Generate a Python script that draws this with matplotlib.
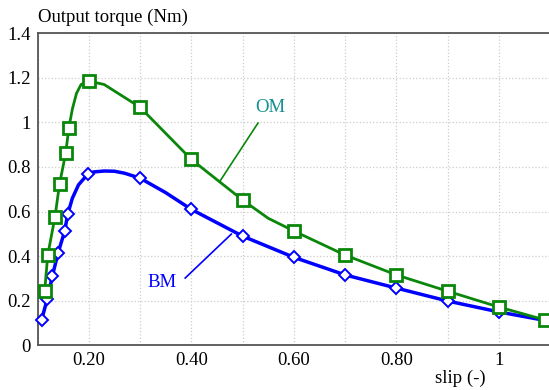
import matplotlib.pyplot as plt
import numpy as np

plt.rcParams['font.family'] = ['Liberation Serif', 'DejaVu Serif']

# OM curve (line) and its square markers
om_line_slip = [0.114, 0.120, 0.134, 0.143, 0.155, 0.161, 0.168, 0.176, 0.185, 0.200,
                0.230, 0.300, 0.400, 0.500, 0.550, 0.600, 0.700, 0.800, 0.900, 1.000, 1.090]
om_line_torque = [0.244, 0.405, 0.575, 0.724, 0.862, 0.973, 1.06, 1.13, 1.17, 1.185,
                  1.17, 1.068, 0.834, 0.652, 0.57, 0.513, 0.405, 0.316, 0.243, 0.172, 0.114]
om_mark_slip = [0.114, 0.120, 0.134, 0.143, 0.155, 0.161, 0.200, 0.300, 0.400,
                0.500, 0.600, 0.700, 0.800, 0.900, 1.000, 1.090]
om_mark_torque = [0.244, 0.405, 0.575, 0.724, 0.862, 0.973, 1.185, 1.068, 0.834,
                  0.652, 0.513, 0.405, 0.316, 0.243, 0.172, 0.114]

# BM curve (line) and its diamond markers
bm_line_slip = [0.108, 0.119, 0.129, 0.140, 0.153, 0.159, 0.168, 0.180, 0.198, 0.210,
                0.230, 0.250, 0.270, 0.300, 0.350, 0.400, 0.450, 0.500, 0.600,
                0.700, 0.800, 0.900, 1.000, 1.090]
bm_line_torque = [0.114, 0.208, 0.311, 0.414, 0.512, 0.589, 0.66, 0.72, 0.768, 0.778,
                  0.782, 0.781, 0.772, 0.75, 0.685, 0.61, 0.55, 0.49, 0.395,
                  0.316, 0.257, 0.199, 0.150, 0.112]
bm_mark_slip = [0.108, 0.119, 0.129, 0.140, 0.153, 0.159, 0.198, 0.300, 0.400,
                0.500, 0.600, 0.700, 0.800, 0.900, 1.000]
bm_mark_torque = [0.114, 0.208, 0.311, 0.414, 0.512, 0.589, 0.768, 0.75, 0.61,
                  0.49, 0.395, 0.316, 0.257, 0.199, 0.150]

x_ticks = [0.2, 0.4, 0.6, 0.8, 1.0]
x_ticklabels = ['0.20', '0.40', '0.60', '0.80', '1']
y_ticks = [0, 0.2, 0.4, 0.6, 0.8, 1.0, 1.2, 1.4]
y_ticklabels = ['0', '0.2', '0.4', '0.6', '0.8', '1', '1.2', '1.4']

green = '#0a870a'
blue = '#0000ff'
fs = 13.5

fig = plt.figure(figsize=(5.49, 3.90), dpi=100)
ax = fig.add_axes([37.5 / 549, (390 - 345.4) / 390, 1 - 37.5 / 549, (345.4 - 33.2) / 390])

ax.plot(bm_line_slip, bm_line_torque, color=blue, lw=2.5, zorder=3, clip_on=False)
ax.plot(bm_mark_slip, bm_mark_torque, ls='none', marker='D', ms=6, mfc='white',
        mec=blue, mew=1.4, zorder=4, clip_on=False)
ax.plot(om_line_slip, om_line_torque, color=green, lw=2.0, zorder=5, clip_on=False)
ax.plot(om_mark_slip, om_mark_torque, ls='none', marker='s', ms=8, mfc='white',
        mec=green, mew=2, zorder=6, clip_on=False)

# callout labels
ax.plot([0.456, 0.530], [0.737, 0.997], color=green, lw=1.2, zorder=2)
ax.text(0.554, 1.065, 'OM', color='#159090', fontsize=fs, ha='center', va='center')
ax.plot([0.478, 0.388], [0.499, 0.302], color=blue, lw=1.2, zorder=2)
ax.text(0.343, 0.28, 'BM', color=blue, fontsize=fs, ha='center', va='center')

ax.set_xlim(0.1, 1.0976)
ax.set_ylim(0, 1.4)
ax.set_xticks(x_ticks)
ax.set_xticklabels(x_ticklabels)
ax.set_xticks(np.arange(0.1, 1.05, 0.1), minor=True)
ax.set_yticks(y_ticks)
ax.set_yticklabels(y_ticklabels)
ax.tick_params(which='both', length=0, labelsize=fs, pad=5)
ax.grid(which='both', color='#cccccc', ls=':', lw=0.9)
ax.set_axisbelow(True)

for side in ['left', 'bottom', 'top']:
    ax.spines[side].set_color('#555555')
    ax.spines[side].set_linewidth(1.3)
ax.spines['right'].set_visible(False)

fig.text(38 / 549, 1 - 17 / 390, 'Output torque (Nm)', fontsize=fs, ha='left', va='center')
fig.text(460 / 549, 1 - 378 / 390, 'slip (-)', fontsize=fs, ha='center', va='center')

fig.savefig('out.png', dpi=100)
